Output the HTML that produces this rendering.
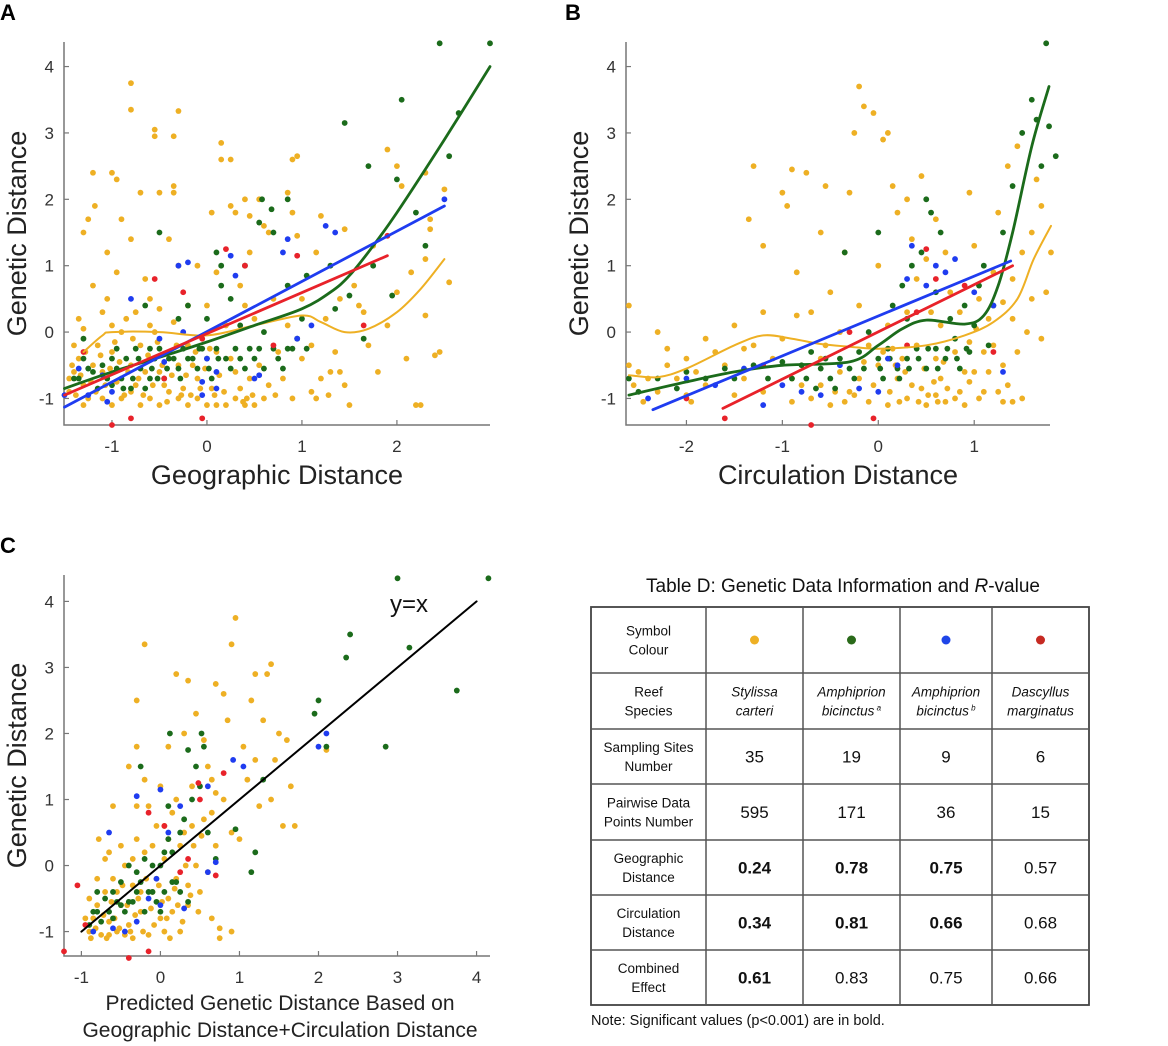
<!DOCTYPE html>
<html><head><meta charset="utf-8"><style>
html,body{margin:0;padding:0;background:#fff;}
svg{display:block;font-family:"Liberation Sans",sans-serif;}
#wrap{position:relative;width:1168px;height:1046px;overflow:hidden;}
</style></head><body>
<div id="wrap">
<svg id="fig" width="1168" height="1046" viewBox="0 0 1168 1046"></svg>
</div>
<script>
// ---------- Panel A data ----------
const yellowA=[[-1.4,-0.6],[-1.35,-0.4],[-1.3,-0.8],[-1.25,-1.0],[-1.2,-0.5],[-1.15,-0.2],[-1.1,0.3],[-1.2,2.4],[-1.25,1.7],[-1.3,1.5],[-1.18,1.9],[-1.0,2.4],[-0.95,2.3],[-0.8,3.75],[-0.8,3.35],[-0.55,3.05],[-0.55,2.95],[-0.35,2.95],[-0.3,3.33],[-0.35,2.2],[-0.35,2.1],[-0.5,2.1],[-0.9,1.7],[-0.8,1.4],[-0.7,2.1],[-1.05,1.2],[-0.95,0.9],[-0.65,0.8],[-0.6,0.5],[-0.4,1.4],[-0.3,1.0],[-0.1,1.0],[0.05,1.8],[0.15,2.85],[0.15,2.6],[0.25,2.6],[0.25,1.9],[0.3,1.8],[0.4,2.0],[0.45,1.75],[0.45,1.2],[0.55,2.0],[0.6,1.6],[0.65,1.5],[0.85,2.1],[0.9,1.8],[0.9,2.6],[0.95,2.65],[0.95,1.45],[1.15,1.2],[1.2,1.75],[1.45,1.55],[1.55,0.7],[1.6,0.4],[1.9,2.75],[2.0,2.5],[2.05,2.2],[2.3,2.4],[2.35,1.7],[2.35,1.55],[2.5,2.15],[2.55,0.75],[2.3,0.25],[2.1,-0.4],[2.2,-1.1],[2.25,-1.1],[2.4,-0.35],[2.45,-0.3],[1.5,-1.1],[1.45,-0.8],[1.3,-0.6],[1.35,-0.3],[1.2,-0.7],[1.1,-0.9],[1.0,-0.4],[0.9,-1.0],[0.8,-0.7],[0.75,-0.3],[0.6,-1.0],[0.5,-1.1],[0.4,-1.1],[0.3,-1.0],[0.2,-1.1],[0.1,-1.1],[0.0,-1.1],[-0.1,-1.0],[-0.2,-1.1],[-0.3,-1.0],[-0.4,-0.9],[-0.5,-1.1],[-0.6,-1.0],[-0.7,-1.1],[-0.8,-0.9],[-0.9,-1.0],[-1.0,-1.1],[-1.1,-1.0],[-1.3,-1.1],[-1.45,-0.9],[-1.4,-0.2],[-1.0,-0.3],[-0.9,0.0],[-0.8,-0.5],[-0.7,-0.2],[-0.6,0.1],[-0.5,-0.6],[-0.4,-0.3],[-0.3,-0.5],[-0.2,-0.2],[-0.1,-0.7],[0.0,0.4],[0.1,-0.3],[0.2,0.1],[0.3,-0.6],[0.4,0.4],[0.5,0.2],[0.55,-0.5],[0.7,0.5],[0.85,0.1],[1.0,0.5],[1.1,-0.2],[1.25,0.2],[1.4,0.5],[1.65,0.3],[1.7,-0.2],[1.8,-0.6],[1.9,0.1],[2.0,0.6],[2.15,0.9],[2.3,1.1],[1.75,1.3],[-1.2,0.7],[-1.35,0.2],[-1.1,-0.6],[-0.95,-0.75],[-0.75,-0.8],[-0.65,-0.6],[-0.45,-0.8],[-0.25,-0.85],[-0.15,-0.5],[0.05,-0.85],[0.25,-0.4],[0.45,-0.7],[0.35,0.7],[0.1,0.9],[-0.2,0.4],[-0.5,0.35],[-0.75,0.3],[-1.05,0.5],
[-1.45,-0.7],[-1.42,-0.5],[-1.38,-0.95],[-1.33,-0.65],[-1.28,-0.3],[-1.22,-0.75],[-1.17,-0.9],[-1.12,-0.35],[-1.07,-0.8],[-1.02,-0.55],[-0.97,-0.15],[-0.92,-0.45],[-0.87,-0.95],[-0.83,-0.6],[-0.78,-0.1],[-0.72,-0.7],[-0.67,-0.95],[-0.62,-0.35],[-0.57,-0.8],[-0.52,-0.15],[-0.47,-0.5],[-0.42,-1.05],[-0.37,-0.65],[-0.32,-0.2],[-0.27,-0.95],[-0.22,-0.65],[-0.17,-0.95],[-0.12,-0.3],[-0.07,-0.85],[-0.02,-0.55],[0.03,-0.25],[0.08,-0.95],[0.13,-0.65],[0.18,-0.9],[0.35,-0.85],[0.42,-1.0],[0.38,-1.05],[0.48,-0.95],[0.65,-0.8],[0.72,-0.95],[1.15,-1.0],[1.28,-0.95],[1.4,-0.6],[-1.3,0.05],[-1.0,0.1],[-0.85,0.2],[-0.55,0.0],[-0.35,0.15]];
const greenA=[[-1.4,-0.7],[-1.3,-0.4],[-1.2,-0.6],[-1.1,-0.5],[-1.0,-0.8],[-1.0,-0.4],[-0.9,-0.7],[-0.85,-0.4],[-0.8,-0.85],[-0.75,-0.25],[-0.7,-0.55],[-0.6,-0.7],[-0.55,-0.4],[-0.5,-0.25],[-0.45,-0.7],[-0.4,-0.4],[-0.3,-0.55],[-0.25,-0.25],[-0.2,-0.4],[-0.1,-0.55],[-0.05,-0.25],[0.0,-0.4],[0.05,-0.7],[0.1,-0.25],[0.2,-0.4],[0.3,-0.25],[0.4,-0.55],[0.5,-0.4],[0.55,-0.25],[0.6,-0.55],[0.75,-0.4],[0.85,-0.25],[0.95,-0.1],[1.05,-0.25],[0.1,1.2],[0.15,1.0],[0.15,0.7],[0.25,0.5],[0.4,1.0],[0.55,1.65],[0.58,2.0],[0.68,1.85],[0.7,1.5],[0.85,2.0],[0.85,0.7],[1.05,0.85],[1.0,0.2],[1.3,1.0],[1.35,0.35],[1.45,3.15],[1.5,0.55],[1.65,-0.1],[1.7,2.5],[1.75,1.0],[1.95,0.55],[2.0,2.3],[2.05,3.5],[2.2,1.8],[2.3,1.3],[2.45,4.35],[2.55,2.65],[2.65,3.3],[2.98,4.35],[-0.5,1.5],[-1.3,-0.1],[-0.95,-0.25],[-0.2,0.4],[0.35,0.1],[0.6,0.0],[-0.65,0.4],
[-1.35,-0.7],[-1.25,-0.55],[-1.15,-0.85],[-1.05,-0.7],[-0.95,-0.55],[-0.88,-0.85],[-0.78,-0.7],[-0.72,-0.4],[-0.65,-0.85],[-0.58,-0.55],[-0.52,-0.7],[-0.42,-0.55],[-0.35,-0.4],[-0.28,-0.7],[-0.15,-0.4],[-0.08,-0.25],[0.02,-0.55],[0.12,-0.4],[0.25,-0.55],[0.35,-0.4],[0.45,-0.25],[0.7,-0.25],[0.8,-0.55],[0.9,-0.25],[-0.6,-0.25],[-0.3,0.2],[0.0,0.2]];
const blueA=[[-1.5,-0.95],[-1.35,-0.55],[-1.25,-0.95],[-1.0,-0.9],[-1.05,-1.05],[-0.8,0.5],[-0.5,-0.1],[-0.45,-0.45],[-0.3,1.0],[-0.2,1.05],[-0.05,-0.95],[-0.05,-0.75],[0.0,-0.4],[0.1,-0.6],[0.1,-0.85],[0.25,1.15],[0.3,0.85],[0.5,-0.7],[0.55,-0.65],[0.8,1.2],[0.85,1.4],[0.95,-0.1],[1.1,0.1],[1.25,1.6],[1.35,1.5],[2.5,2.0],[-0.25,0.0],[-1.1,-0.65]];
const redA=[[-1.3,-0.3],[-1.0,-1.4],[-0.8,-1.3],[-0.55,0.8],[-0.25,0.6],[-0.05,-1.3],[-0.05,-0.1],[0.2,1.25],[0.4,1.0],[0.7,-0.2],[0.95,1.15],[1.65,0.1],[1.9,1.45],[-0.45,-0.7]];
const fitGreenA=[[-1.5,-0.85],[-1,-0.6],[-0.5,-0.38],[0,-0.15],[0.5,0.1],[1,0.35],[1.3,0.6],[1.5,0.85],[1.75,1.3],[2,1.8],[2.5,2.9],[2.98,4.0]];
const fitBlueA=[[-1.5,-1.13],[2.5,1.9]];
const fitRedA=[[-1.5,-0.95],[1.9,1.15]];
const fitYellowA=[[-1.3,-0.3],[-1.1,-0.05],[-1,0],[-0.5,0],[0,-0.05],[0.5,0.1],[1,0.25],[1.2,0.15],[1.45,0],[1.7,0.05],[2,0.3],[2.25,0.65],[2.5,1.1]];
// ---------- Panel B data ----------
const yellowB=[[-2.6,0.4],[-2.55,-0.8],[-2.5,-0.6],[-2.4,-0.7],[-2.3,-0.9],[-2.2,-0.5],[-2.1,-0.7],[-2.0,-0.4],[-1.9,-0.6],[-1.8,-0.8],[-1.7,-0.3],[-1.6,-0.5],[-1.5,0.1],[-1.4,-0.7],[-1.3,2.5],[-1.35,1.7],[-1.2,1.3],[-1.2,0.3],[-1.1,-0.4],[-1.0,2.1],[-0.95,1.9],[-0.9,2.45],[-0.85,0.9],[-0.8,-0.8],[-0.75,2.4],[-0.7,0.3],[-0.6,1.5],[-0.55,2.2],[-0.5,0.6],[-0.45,-0.9],[-0.4,0.0],[-0.35,1.2],[-0.3,2.1],[-0.25,3.0],[-0.2,3.7],[-0.15,3.4],[-0.1,-0.2],[-0.05,3.3],[0.0,1.0],[0.05,2.9],[0.1,3.0],[0.15,2.2],[0.2,1.8],[0.25,-0.4],[0.3,2.0],[0.35,1.4],[0.4,0.8],[0.45,2.35],[0.5,1.1],[0.55,0.3],[0.6,1.7],[0.65,-0.7],[0.7,1.2],[0.75,0.6],[0.8,-1.0],[0.85,0.3],[0.9,-0.6],[0.95,2.1],[1.0,1.3],[1.05,0.5],[1.1,-0.3],[1.15,0.2],[1.2,0.9],[1.25,1.8],[1.3,-0.5],[1.35,2.5],[1.4,0.8],[1.45,2.8],[1.5,1.2],[1.55,0.0],[1.6,1.5],[1.65,2.3],[1.7,1.9],[1.75,0.6],[1.8,1.2],[1.5,-1.0],[1.3,-1.05],[1.1,-0.9],[0.9,-1.1],[0.7,-1.05],[0.5,-1.1],[0.3,-1.0],[0.1,-1.1],[-0.1,-1.05],[-0.3,-0.9],[-0.5,-1.1],[-0.7,-1.0],[-0.9,-0.7],[0.0,-0.5],[0.2,-0.7],[0.4,-0.2],[0.6,-0.4],[0.8,-0.3],[1.0,-0.6],[1.2,-0.2],[0.3,0.3],[0.1,0.1],[-0.2,0.4],[-0.6,-0.4],[-1.0,-0.1],[-1.3,-0.2],[-1.8,-0.1],[-2.3,0.0],[1.4,0.2],[1.7,-0.1],[0.15,-0.25],[0.45,-0.85],[0.65,0.1],[0.95,-0.15],[1.6,0.5],[-2.45,-1.05],[-1.95,-1.05],[-0.35,-1.05],[0.6,-0.95],
[-0.25,-0.95],[-0.2,-0.7],[-0.15,-0.45],[-0.05,-0.8],[0.05,-0.3],[0.12,-0.9],[0.18,-0.5],[0.22,-1.05],[0.28,-0.6],[0.35,-0.8],[0.42,-1.05],[0.48,-0.55],[0.52,-0.95],[0.58,-0.75],[0.62,-1.05],[0.68,-0.45],[0.72,-0.85],[0.85,-0.9],[0.95,-0.75],[1.05,-1.0],[1.15,-0.6],[1.25,-0.9],[1.35,-0.8],[1.45,-0.3],[1.4,-1.05],[-0.6,-0.8],[-0.9,-1.05],[-1.2,-0.9],[-1.5,-0.95],[-2.0,-0.95],[-2.6,-0.5],[-0.4,-0.6],[1.02,0.05],[1.3,0.45],[-2.2,-0.25],[-1.4,-0.25],[-0.85,0.25],[-0.55,-0.2]];
const greenB=[[-2.5,-0.9],[-2.3,-0.7],[-2.0,-0.6],[-1.8,-0.7],[-1.6,-0.55],[-1.3,-0.5],[-1.0,-0.45],[-0.9,-0.7],[-0.8,-0.5],[-0.7,-0.3],[-0.6,-0.55],[-0.5,-0.7],[-0.4,-0.4],[-0.3,-0.55],[-0.2,-0.3],[-0.1,0.0],[0.0,-0.4],[0.05,-0.7],[0.1,-0.25],[0.15,0.4],[0.2,-0.55],[0.25,0.7],[0.3,-0.4],[0.35,1.0],[0.4,-0.25],[0.45,1.2],[0.5,-0.55],[0.55,1.8],[0.6,-0.25],[0.65,1.5],[0.7,-0.4],[0.75,0.2],[0.8,-0.1],[0.85,-0.55],[0.9,0.4],[0.95,-0.3],[1.0,0.1],[1.1,1.0],[1.15,-0.2],[1.3,1.5],[1.4,2.2],[1.5,3.0],[1.6,3.5],[1.65,3.2],[1.7,2.5],[1.75,4.35],[1.78,3.1],[1.85,2.65],[-0.35,1.2],[0.0,1.5],[0.5,2.0],[0.6,0.6],[-1.5,-0.7],[0.3,0.2],
[-0.75,-0.7],[-0.65,-0.85],[-0.45,-0.85],[-0.25,-0.7],[-0.15,-0.55],[0.02,-0.55],[0.12,-0.4],[0.22,-0.7],[0.32,-0.55],[0.42,-0.4],[0.52,-0.25],[0.62,-0.55],[0.72,-0.25],[0.82,-0.4],[0.92,-0.25],[-0.55,-0.4],[-1.15,-0.7],[-2.1,-0.85],[-2.6,-0.7],[1.05,0.7],[1.2,0.4]];
const blueB=[[-2.4,-1.0],[-2.0,-0.7],[-1.7,-0.8],[-1.4,-0.55],[-1.2,-1.1],[-1.0,-0.8],[-0.8,-0.9],[-0.6,-0.95],[-0.4,-0.5],[-0.2,-0.85],[0.0,-0.9],[0.2,-0.5],[0.3,0.8],[0.35,1.3],[0.5,0.7],[0.6,1.0],[0.8,1.1],[1.0,0.6],[1.2,0.4],[1.3,-0.6],[0.1,-0.4],[0.7,0.9]];
const redB=[[-2.0,-1.0],[-1.6,-1.3],[-1.2,-0.5],[-0.7,-1.4],[-0.3,0.0],[-0.05,-1.3],[0.3,-0.2],[0.5,1.25],[0.6,0.8],[0.9,0.7],[1.2,-0.3],[0.4,0.3]];
const fitGreenB=[[-2.6,-0.95],[-2,-0.75],[-1.5,-0.6],[-1,-0.5],[-0.3,-0.45],[0,-0.2],[0.25,0.05],[0.5,0.18],[0.9,0.12],[1.1,0.25],[1.25,0.7],[1.4,1.5],[1.6,2.8],[1.78,3.7]];
const fitBlueB=[[-2.35,-1.17],[1.38,1.07]];
const fitRedB=[[-1.62,-1.15],[1.4,1.0]];
const fitYellowB=[[-2.6,-0.65],[-2.3,-0.68],[-2,-0.55],[-1.5,-0.2],[-1.2,-0.05],[-0.9,-0.1],[-0.6,-0.18],[-0.3,-0.22],[0,-0.25],[0.5,-0.2],[0.9,-0.05],[1.2,0.15],[1.45,0.5],[1.62,1.1],[1.8,1.6]];
// ---------- Panel C data ----------
const yellowC=[[-0.9,-1.0],[-0.85,-0.8],[-0.8,-0.6],[-0.75,-1.05],[-0.7,-0.4],[-0.65,-0.85],[-0.6,-0.2],[-0.55,-1.0],[-0.5,-0.6],[-0.45,0.0],[-0.4,-0.9],[-0.35,-0.3],[-0.3,0.4],[-0.25,-0.7],[-0.2,0.2],[-0.15,-1.05],[-0.1,-0.4],[-0.05,0.6],[0.0,-0.8],[0.05,0.1],[0.1,-0.5],[0.15,0.8],[0.2,-0.2],[0.25,-1.0],[0.3,0.5],[0.35,-0.6],[0.4,1.2],[0.45,0.0],[0.5,-0.4],[0.55,0.7],[0.6,1.5],[0.65,-0.8],[0.7,0.3],[0.75,-1.1],[0.8,1.0],[0.85,2.2],[0.9,0.5],[0.95,3.75],[0.9,3.35],[1.05,1.8],[1.1,1.3],[1.15,2.5],[1.2,2.9],[1.25,0.9],[1.3,2.2],[1.35,2.9],[1.4,3.05],[1.45,1.6],[1.5,2.0],[1.55,0.6],[1.6,1.9],[1.65,1.2],[1.7,0.6],[-0.2,3.35],[0.1,1.8],[0.2,2.9],[0.3,2.0],[-0.2,1.3],[-0.4,1.5],[0.0,1.2],[-0.6,0.9],[-0.3,0.9],[0.45,2.3],[0.55,1.9],[0.35,-0.3],[-0.8,-0.2],[-0.9,-0.5],[-0.95,-0.8],[-0.7,0.1],[-0.5,0.3],[-0.35,-1.1],[-0.05,-0.2],[0.15,-0.7],[0.25,0.3],[-0.65,-1.05],[-0.45,-1.05],[-0.25,-0.4],[0.05,-1.0],[0.4,0.6],[0.6,-0.1],[0.7,1.1],[0.9,-1.0],[1.0,0.4],[1.2,1.6],[1.4,1.0],[0.7,2.75],[0.8,2.6],[0.65,1.3],[-0.15,0.9],[0.1,0.4],[-0.3,2.5],[-0.3,1.8],[2.1,1.75],[0.35,2.8],
[-0.88,-1.1],[-0.82,-0.95],[-0.72,-0.75],[-0.68,-1.1],[-0.62,-0.55],[-0.58,-0.8],[-0.52,-0.95],[-0.48,-0.3],[-0.42,-0.6],[-0.38,-1.0],[-0.32,-0.75],[-0.28,-0.5],[-0.22,-1.0],[-0.18,-0.2],[-0.12,-0.65],[-0.08,-0.9],[-0.02,-0.3],[0.02,-0.55],[0.08,-0.8],[0.12,-1.1],[0.18,-0.35],[0.22,-0.6],[0.28,-0.85],[0.32,0.0],[0.38,-0.45],[0.42,0.3],[0.48,-0.7],[0.52,0.45],[-0.55,-0.4],[-0.35,0.1],[-0.1,0.3],[0.05,0.6],[0.2,1.0],[-0.65,0.2],[-0.78,0.4],[0.65,0.8],[0.75,-0.95]];
const greenC=[[-0.9,-0.9],[-0.8,-0.7],[-0.7,-0.5],[-0.6,-0.8],[-0.5,-0.25],[-0.4,-0.55],[-0.3,-0.1],[-0.2,-0.7],[-0.1,-0.4],[0.0,0.0],[-0.6,-0.4],[-0.3,-0.4],[0.1,0.4],[0.2,-0.25],[0.3,0.7],[0.4,1.0],[0.5,1.2],[0.55,1.8],[0.6,0.5],[0.45,1.5],[0.35,1.75],[0.7,0.1],[-0.2,0.1],[-0.5,-0.6],[-0.8,-0.4],[0.0,-0.7],[0.15,0.2],[-0.4,0.0],[0.25,0.5],[1.95,2.3],[2.0,2.5],[2.1,1.8],[2.35,3.15],[2.4,3.5],[2.85,1.8],[3.0,4.35],[3.15,3.3],[3.75,2.65],[4.15,4.35],[0.95,0.55],[0.1,0.9],[0.12,2.0],[0.52,2.0],[-0.25,1.5],[1.15,-0.1],[1.2,0.2],[1.3,1.3],
[-0.85,-0.7],[-0.75,-0.85],[-0.65,-0.7],[-0.55,-0.55],[-0.45,-0.7],[-0.35,-0.55],[-0.25,-0.25],[-0.15,-0.4],[-0.05,-0.55],[0.05,-0.4],[0.15,-0.25],[0.25,-0.4],[0.35,-0.55],[0.05,0.2],[-0.1,0.0]];
const blueC=[[-0.85,-1.0],[-0.6,-0.95],[-0.45,-1.0],[-0.3,-0.85],[-0.15,-0.5],[0.0,-0.6],[0.1,0.5],[0.0,1.15],[0.25,0.9],[0.6,1.2],[0.92,1.6],[1.05,1.5],[-0.3,1.05],[-0.65,0.5],[2.0,1.8],[2.1,2.0],[0.7,0.05],[-0.05,-0.2],[0.6,-0.1],[0.3,-0.65]];
const redC=[[-1.05,-0.3],[-0.95,-0.9],[-1.22,-1.3],[-0.4,-1.4],[-0.15,-1.3],[-0.15,0.8],[0.05,0.6],[0.48,1.25],[0.5,1.0],[0.8,1.4],[0.35,0.1],[0.7,-0.15],[0.25,-0.1]];
const lineC=[[-1,-1],[4,4]];
// ---------- Tick data ----------
const yTicks=[-1,0,1,2,3,4];
const xTicksA=[-1,0,1,2];
const xTicksB=[-2,-1,0,1];
const xTicksC=[-1,0,1,2,3,4];
// ---------- Table data ----------
const tableRowLabels=[["Symbol","Colour"],["Reef","Species"],["Sampling Sites","Number"],["Pairwise Data","Points Number"],["Geographic","Distance"],["Circulation","Distance"],["Combined","Effect"]];
const speciesNames=[["Stylissa","carteri",""],["Amphiprion","bicinctus","a"],["Amphiprion","bicinctus","b"],["Dascyllus","marginatus",""]];
const sitesNumber=["35","19","9","6"];
const pairsNumber=["595","171","36","15"];
const geoR=["0.24","0.78","0.75","0.57"];
const geoBold=[true,true,true,false];
const circR=["0.34","0.81","0.66","0.68"];
const circBold=[true,true,true,false];
const combR=["0.61","0.83","0.75","0.66"];
const combBold=[true,false,false,false];

const COL={y:"#eeb024",g:"#1b6b1b",b:"#1f3cf0",r:"#e8222a"};
const NS="http://www.w3.org/2000/svg";
const svg=document.getElementById('fig');
function mk(tag,attrs,parent){const e=document.createElementNS(NS,tag);for(const k in attrs)e.setAttribute(k,attrs[k]);(parent||svg).appendChild(e);return e;}
function smoothPath(P){
  if(P.length<3) return P.map((p,i)=>(i?'L':'M')+p[0].toFixed(1)+','+p[1].toFixed(1)).join(' ');
  let d='M'+P[0][0].toFixed(1)+','+P[0][1].toFixed(1);
  for(let i=0;i<P.length-1;i++){
    const p0=P[i-1]||P[i],p1=P[i],p2=P[i+1],p3=P[i+2]||P[i+1];
    const c1=[p1[0]+(p2[0]-p0[0])/6,p1[1]+(p2[1]-p0[1])/6];
    const c2=[p2[0]-(p3[0]-p1[0])/6,p2[1]-(p3[1]-p1[1])/6];
    d+=` C${c1[0].toFixed(1)},${c1[1].toFixed(1)} ${c2[0].toFixed(1)},${c2[1].toFixed(1)} ${p2[0].toFixed(1)},${p2[1].toFixed(1)}`;
  }
  return d;
}

function panel(cfg){
  const g=mk('g',{});
  
  
  const sx=v=>cfg.L+(v-cfg.xmin)/(cfg.xmax-cfg.xmin)*(cfg.R-cfg.L);
  const sy=v=>cfg.B-(v-cfg.ymin)/(cfg.ymax-cfg.ymin)*(cfg.B-cfg.T);
  const ax=mk('path',{d:`M${cfg.L},${cfg.T} L${cfg.L},${cfg.B} L${cfg.R},${cfg.B}`,stroke:"#777",fill:"none","stroke-width":1.5},g);
  
  
  yTicks.forEach(t=>{
    const y=sy(t);
    mk('line',{x1:cfg.L,x2:cfg.L+5,y1:y,y2:y,stroke:"#777","stroke-width":1.2},g);
    const tx=mk('text',{x:cfg.L-10,y:y+6,"text-anchor":"end","font-size":17,fill:"#333"},g);
    tx.textContent=t;
    
    
  });
  cfg.xticks.forEach(t=>{
    const x=sx(t);
    mk('line',{x1:x,x2:x,y1:cfg.B,y2:cfg.B-5,stroke:"#777","stroke-width":1.2},g);
    const tx=mk('text',{x:x,y:cfg.B+27,"text-anchor":"middle","font-size":17,fill:"#333"},g);
    tx.textContent=t;
    
    
  });
  const pts=(arr,c,nm)=>arr.forEach(p=>{
    const d=mk('circle',{cx:sx(p[0]),cy:sy(p[1]),r:2.9,fill:c},g);
    
    
  });
  pts(cfg.yellow,COL.y,'point-stylissa');
  pts(cfg.green,COL.g,'point-amphiprion-a');
  pts(cfg.blue,COL.b,'point-amphiprion-b');
  pts(cfg.red,COL.r,'point-dascyllus');
  (cfg.fits||[]).forEach(f=>{
    const d=smoothPath(f.pts.map(p=>[sx(p[0]),sy(p[1])]));
    const pa=mk('path',{d:d,stroke:f.c,"stroke-width":f.w||2.8,fill:"none","stroke-linejoin":"round","stroke-linecap":"round"},g);
    
    
  });
  const yt=mk('text',{x:0,y:0,"text-anchor":"middle","font-size":27,fill:"#222",transform:`translate(${cfg.L-38},${(cfg.T+cfg.B)/2}) rotate(-90)`},g);
  yt.textContent="Genetic Distance";
  
  
  cfg.xtitle.forEach((s,i)=>{
    const xt=mk('text',{x:cfg.xtx,y:cfg.xty+i*cfg.xtdy,"text-anchor":"middle","font-size":cfg.xtfs,fill:"#222"},g);
    xt.textContent=s;
    
    
  });
  const lb=mk('text',{x:cfg.lx,y:cfg.ly,"font-size":22,"font-weight":"bold",fill:"#000"},g);
  lb.textContent=cfg.label;
  
  
  return {sx,sy,g};
}

panel({name:'panel-a',L:64,R:490,T:42,B:425,xmin:-1.505,xmax:2.98,ymin:-1.4,ymax:4.37,xticks:xTicksA,
  yellow:yellowA,green:greenA,blue:blueA,red:redA,
  fits:[{pts:fitYellowA,c:COL.y,w:2,name:'fit-stylissa'},{pts:fitGreenA,c:COL.g,name:'fit-amphiprion-a'},{pts:fitBlueA,c:COL.b,name:'fit-amphiprion-b'},{pts:fitRedA,c:COL.r,name:'fit-dascyllus'}],
  xtitle:["Geographic Distance"],xtx:277,xty:484,xtdy:0,xtfs:27,label:"A",lx:0,ly:20});
panel({name:'panel-b',L:626,R:1050,T:42,B:425,xmin:-2.63,xmax:1.79,ymin:-1.4,ymax:4.37,xticks:xTicksB,
  yellow:yellowB,green:greenB,blue:blueB,red:redB,
  fits:[{pts:fitYellowB,c:COL.y,w:2,name:'fit-stylissa'},{pts:fitGreenB,c:COL.g,name:'fit-amphiprion-a'},{pts:fitBlueB,c:COL.b,name:'fit-amphiprion-b'},{pts:fitRedB,c:COL.r,name:'fit-dascyllus'}],
  xtitle:["Circulation Distance"],xtx:838,xty:484,xtdy:0,xtfs:27,label:"B",lx:565,ly:20});
const pc=panel({name:'panel-c',L:64,R:490,T:575,B:956,xmin:-1.22,xmax:4.17,ymin:-1.37,ymax:4.4,xticks:xTicksC,
  yellow:yellowC,green:greenC,blue:blueC,red:redC,
  fits:[{pts:lineC,c:"#000",w:2,name:'identity-line'}],
  xtitle:["Predicted Genetic Distance Based on","Geographic Distance+Circulation Distance"],xtx:280,xty:1010,xtdy:27,xtfs:21,label:"C",lx:0,ly:553});
const yx=mk('text',{x:390,y:612,"font-size":24,fill:"#111"},pc.g);
yx.textContent="y=x";



// ---------- Table D ----------
const tg=mk('g',{});


const tt=mk('text',{x:843,y:592,"text-anchor":"middle","font-size":19,fill:"#111"},tg);
tt.innerHTML='Table D: Genetic Data Information and <tspan font-style="italic">R</tspan>-value';


const colX=[591,706,803,900,992,1089];
const rowY=[607,673,729,784,840,895,950,1005];
mk('rect',{x:591,y:607,width:498,height:398,fill:"none",stroke:"#444","stroke-width":1.8},tg);
colX.slice(1,-1).forEach(x=>mk('line',{x1:x,x2:x,y1:607,y2:1005,stroke:"#555","stroke-width":1.5},tg));
rowY.slice(1,-1).forEach(y=>mk('line',{x1:591,x2:1089,y1:y,y2:y,stroke:"#555","stroke-width":1.5},tg));
function cellText(ci,ri,lines,opt){
  const cx=(colX[ci]+colX[ci+1])/2, cy=(rowY[ri]+rowY[ri+1])/2;
  const fs=opt.fs, lh=opt.lh||fs*1.25;
  lines.forEach((s,i)=>{
    const t=mk('text',{x:cx,y:cy+(i-(lines.length-1)/2)*lh+fs*0.36,"text-anchor":"middle","font-size":fs,fill:"#111","font-weight":opt.bold?"bold":"normal","font-style":opt.it?"italic":"normal"},tg);
    t.textContent=s;
    if(opt.sup&&i===1&&opt.sup[0]){const sp=mk('tspan',{"font-size":8,dy:-5},t);sp.textContent=" "+opt.sup;}
    
    
  });
}
tableRowLabels.forEach((l,ri)=>cellText(0,ri,l,{fs:13.5,lh:19,name:'row-label'}));
const symCols=[COL.y,"#2a6a1a","#1f45e8","#c62a22"];
symCols.forEach((c,i)=>{
  const d=mk('circle',{cx:(colX[i+1]+colX[i+2])/2,cy:640,r:4.5,fill:c},tg);
  
  
});
speciesNames.forEach((s,i)=>cellText(i+1,1,[s[0],s[1]],{fs:13.5,lh:19,it:true,sup:s[2],name:'species-name'}));
sitesNumber.forEach((v,i)=>cellText(i+1,2,[v],{fs:17,name:'sites-number'}));
pairsNumber.forEach((v,i)=>cellText(i+1,3,[v],{fs:17,name:'pairs-number'}));
geoR.forEach((v,i)=>cellText(i+1,4,[v],{fs:17,bold:geoBold[i],name:'geo-r-value'}));
circR.forEach((v,i)=>cellText(i+1,5,[v],{fs:17,bold:circBold[i],name:'circ-r-value'}));
combR.forEach((v,i)=>cellText(i+1,6,[v],{fs:17,bold:combBold[i],name:'combined-r-value'}));
const note=mk('text',{x:591,y:1025,"font-size":14.5,fill:"#111"},tg);
note.textContent="Note: Significant values (p<0.001) are in bold.";


</script>
</body></html>
